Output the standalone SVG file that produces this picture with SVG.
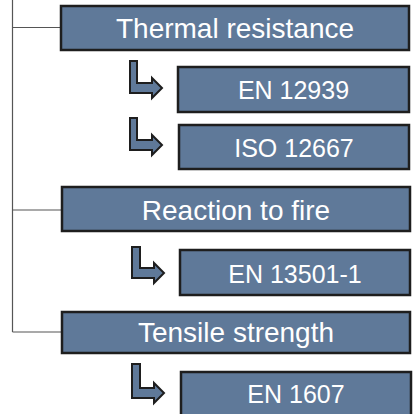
<svg xmlns="http://www.w3.org/2000/svg" width="416" height="414" viewBox="0 0 416 414">
<style>
.box{fill:#5F7999;stroke:#1E1E1E;stroke-width:2.5}
.arr{fill:#5F7999;stroke:#1E1E1E;stroke-width:2;stroke-linejoin:miter}
.t{fill:#FFFFFF;font-family:"Liberation Sans",Arial,sans-serif;text-anchor:middle}
.main{font-size:28px}
.sub{font-size:25px}
.ln{stroke:#555555;stroke-width:1.2;fill:none}
</style>
<rect width="416" height="414" fill="#FFFFFF"/>
<g id="connectors">
<path class="ln" d="M12.5,0 V332 M12.5,27.5 H61 M12.5,210 H62 M12.5,332 H62"/>
<path class="arr" d="M130,61 H137 V83 H152 V78 L162,88 L152,98 V93 H130 Z"/>
<path class="arr" d="M130,118 H137 V140 H152 V135 L162,145 L152,155 V150 H130 Z"/>
<path class="arr" d="M132,247 H140 V268 H154 V263 L164,273 L154,283 V278 H132 Z"/>
<path class="arr" d="M132,364 H140 V388 H154 V383 L164,393 L154,403 V398 H132 Z"/>
</g>
<g id="thermal"><rect class="box" x="61" y="6" width="348" height="44"/><text class="t main" x="235" y="38">Thermal resistance</text></g>
<g id="en12939"><rect class="box" x="178" y="67" width="231" height="45"/><text class="t sub" x="293.5" y="99">EN 12939</text></g>
<g id="iso12667"><rect class="box" x="179" y="125" width="230" height="44"/><text class="t sub" x="294" y="157">ISO 12667</text></g>
<g id="reaction"><rect class="box" x="62" y="187" width="348" height="44"/><text class="t main" x="236" y="220">Reaction to fire</text></g>
<g id="en13501"><rect class="box" x="180" y="250" width="230" height="45"/><text class="t sub" x="295" y="283">EN 13501-1</text></g>
<g id="tensile"><rect class="box" x="62" y="312" width="348" height="41"/><text class="t main" x="236" y="342">Tensile strength</text></g>
<g id="en1607"><rect class="box" x="181" y="372" width="230" height="46"/><text class="t sub" x="296" y="403">EN 1607</text></g>
</svg>
